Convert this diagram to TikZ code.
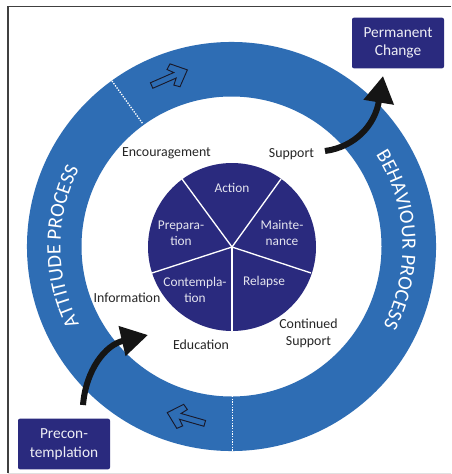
\documentclass[tikz,border=0pt]{standalone}
\usepackage{fontspec}
\setmainfont{Carlito}
\usetikzlibrary{decorations.text,arrows.meta,calc}
\definecolor{ringblue}{HTML}{2E6DB4}
\definecolor{navy}{HTML}{2A2A7E}
\definecolor{arrowblack}{HTML}{151515}
\tikzset{
  px/.style={x=0.75pt,y=-0.75pt},
  darktext/.style={font=\fontsize{10.4pt}{12.5pt}\selectfont,text=black!85,align=center,inner sep=0pt},
  pietext/.style={font=\fontsize{10pt}{12pt}\selectfont,text=white!88!navy,align=center,inner sep=0pt},
  boxnode/.style={fill=navy,rounded corners=1.5pt,text=white!92!navy,align=center,inner sep=0pt,font=\fontsize{11.5pt}{14pt}\selectfont,minimum width=69pt,minimum height=38pt},
  spoke/.style={draw=white,line width=1pt},
  divider/.style={draw=white,line width=1pt,dash pattern=on 1pt off 1pt},
  bigarrow/.style={draw=arrowblack,line width=4.5pt,-{Triangle[length=20pt,width=22pt]}},
  hollow/.style={draw=arrowblack!80!navy,line width=0.7pt,fill=ringblue,line join=miter},
  hollowshape/.pic={\draw[hollow] (-19.5,-3) -- (6,-3) -- (1,-8.5) -- (6,-12.5) -- (19.5,0) -- (6,12.5) -- (1,8.5) -- (6,3) -- (-19.5,3) -- cycle;},
}
\begin{document}
\begin{tikzpicture}[px]
\useasboundingbox (0,0) rectangle (451,474);
\fill[white] (0,0) rectangle (451,474);
% frame
\draw[black!75,line width=0.8pt] (8,473) -- (8,6.5) -- (451,6.5);
\draw[black!12,line width=0.5pt] (8,473) -- (451,473);
% ring
\coordinate (c) at (231.5,246.5);
\fill[ringblue,even odd rule] (c) circle[radius=153.4pt] (c) circle[radius=112.5pt];
% dividers
\coordinate (da) at (112,81);
\coordinate (db) at (143,124);
\coordinate (dc) at (232.5,396);
\coordinate (dd) at (232.5,451);
\draw[divider] (da) -- (db);
\draw[divider] (dc) -- (dd);
% hollow arrows
\pic[rotate=23.6] at (169.5,77.7) {hollowshape};
\pic[rotate=164] at (186,418) {hollowshape};
% ring labels
\path[decorate,decoration={text along path,text align={center},text={|\fontsize{15.3pt}{17pt}\selectfont\color{white}|ATTITUDE PROCESS}}]
  (83.4,332) .. controls (52.85,279.1) and (52.85,213.9) .. (83.4,161);
\path[decorate,decoration={text along path,text align={center},text={|\fontsize{15.3pt}{17pt}\selectfont\color{white}|BEHAVIOUR PROCESS}}]
  (371.6,148.4) .. controls (409.7,202.9) and (412.85,274.4) .. (379.6,332);
% pie
\fill[navy] (232,247) circle[radius=63pt];
\coordinate (pc) at (232,247);
\coordinate (p1) at (182,179);
\coordinate (p2) at (281,179);
\coordinate (p3) at (311,273);
\coordinate (p4) at (232,331);
\coordinate (p5) at (152,273);
\foreach \p in {p1,p2,p3,p4,p5} \draw[spoke] (pc) -- (\p);
\node[pietext] (action) at (232,188) {Action};
\node[pietext] (prep) at (181,233) {Prepara-\\tion};
\node[pietext] (maint) at (282,233) {Mainte-\\nance};
\node[pietext] (relapse) at (264,282) {Relapse};
\node[pietext] (contemp) at (195,290) {Contempla-\\tion};
\node[darktext] (enc) at (166.5,153.5) {Encouragement};
\node[darktext] (sup) at (291.5,154) {Support};
\node[darktext] (info) at (127,298) {Information};
\node[darktext] (edu) at (201,345) {Education};
\node[darktext] (cont) at (308.5,333) {Continued\\Support};
\node[boxnode] (perm) at (398,43) {Permanent\\Change};
\node[boxnode] (pre) at (64,444) {Precon-\\templation};
\coordinate (a1) at (325,151);
\coordinate (a2) at (83,405);
\coordinate (t1) at (383,76);
\coordinate (t2) at (148,335);
\draw[bigarrow] (a1) .. controls (355,147) and (375,125) .. (t1);
\draw[bigarrow] (a2) .. controls (86,370) and (105,345) .. (t2);
\end{tikzpicture}
\end{document}
